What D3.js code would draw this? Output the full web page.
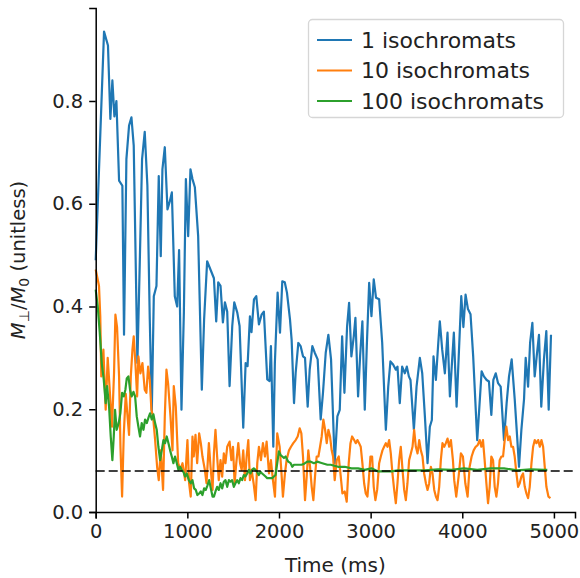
<!DOCTYPE html>
<html>
<head>
<meta charset="utf-8">
<script src="https://cdn.jsdelivr.net/npm/d3@7"></script>
<style>
  body { margin: 0; background: #fff; }
  text { font-family: "DejaVu Sans", sans-serif; }
</style>
</head>
<body>
<div id="wrapper"></div>
<script>
// DATA: [time (ms), M_perp / M0]
const iso1 = [[0,0.49],[91,0.935],[134,0.908],[160,0.765],[182,0.84],[204,0.77],[226,0.80],[255,0.645],[291,0.635],[309,0.345],[335,0.687],[364,0.752],[390,0.768],[415,0.713],[455,0.29],[481,0.486],[506,0.687],[535,0.74],[564,0.635],[590,0.375],[612,0.193],[634,0.42],[663,0.44],[688,0.654],[710,0.498],[728,0.667],[754,0.71],[783,0.589],[809,0.605],[831,0.622],[863,0.42],[889,0.40],[910,0.51],[936,0.199],[962,0.388],[984,0.648],[1009,0.537],[1034,0.667],[1056,0.648],[1082,0.632],[1118,0.537],[1158,0.238],[1183,0.375],[1216,0.488],[1252,0.472],[1290,0.455],[1315,0.371],[1337,0.447],[1362,0.44],[1388,0.369],[1410,0.408],[1435,0.39],[1461,0.245],[1490,0.362],[1512,0.408],[1545,0.388],[1570,0.362],[1610,0.164],[1636,0.29],[1657,0.284],[1683,0.381],[1700,0.35],[1727,0.414],[1752,0.42],[1781,0.365],[1810,0.384],[1835,0.39],[1872,0.258],[1897,0.255],[1912,0.323],[1938,0.127],[1955,0.29],[1985,0.427],[2011,0.349],[2036,0.449],[2063,0.447],[2087,0.427],[2120,0.375],[2138,0.335],[2164,0.212],[2182,0.271],[2211,0.329],[2236,0.323],[2262,0.303],[2284,0.30],[2313,0.205],[2335,0.277],[2364,0.323],[2390,0.31],[2422,0.297],[2455,0.18],[2480,0.232],[2510,0.31],[2539,0.345],[2568,0.297],[2608,0.095],[2637,0.186],[2663,0.199],[2689,0.342],[2714,0.232],[2743,0.361],[2765,0.407],[2790,0.303],[2816,0.342],[2834,0.378],[2863,0.225],[2885,0.303],[2910,0.371],[2936,0.199],[2958,0.322],[2984,0.446],[3009,0.381],[3034,0.453],[3059,0.417],[3093,0.414],[3126,0.33],[3166,0.16],[3192,0.244],[3216,0.293],[3245,0.287],[3275,0.277],[3293,0.283],[3318,0.212],[3344,0.283],[3373,0.27],[3395,0.283],[3417,0.264],[3435,0.257],[3472,0.16],[3501,0.244],[3537,0.30],[3563,0.27],[3592,0.186],[3621,0.095],[3646,0.166],[3668,0.179],[3686,0.303],[3712,0.257],[3738,0.329],[3755,0.371],[3781,0.316],[3810,0.27],[3839,0.349],[3865,0.225],[3908,0.349],[3938,0.205],[3989,0.42],[4012,0.36],[4036,0.423],[4062,0.395],[4090,0.385],[4119,0.303],[4163,0.14],[4192,0.22],[4211,0.274],[4236,0.264],[4266,0.257],[4291,0.254],[4317,0.189],[4339,0.257],[4365,0.27],[4390,0.251],[4419,0.244],[4455,0.14],[4484,0.212],[4510,0.264],[4539,0.297],[4572,0.22],[4601,0.14],[4619,0.088],[4645,0.16],[4674,0.22],[4692,0.30],[4718,0.244],[4740,0.329],[4765,0.368],[4790,0.264],[4812,0.303],[4837,0.345],[4862,0.205],[4891,0.297],[4917,0.352],[4943,0.199],[4968,0.345]]

const iso10 = [[0,0.472],[36,0.44],[50,0.38],[61,0.264],[84,0.316],[109,0.199],[131,0.30],[153,0.238],[178,0.166],[200,0.27],[215,0.384],[233,0.36],[255,0.264],[270,0.128],[288,0.03],[306,0.15],[328,0.23],[350,0.18],[364,0.15],[383,0.264],[401,0.316],[415,0.342],[433,0.29],[452,0.225],[466,0.303],[488,0.27],[510,0.29],[535,0.238],[553,0.232],[572,0.283],[590,0.257],[608,0.199],[626,0.186],[648,0.141],[670,0.088],[688,0.062],[710,0.12],[735,0.043],[754,0.186],[772,0.277],[790,0.25],[816,0.186],[838,0.12],[852,0.245],[874,0.205],[900,0.095],[925,0.082],[947,0.095],[976,0.062],[1001,0.14],[1019,0.056],[1037,0.03],[1056,0.147],[1070,0.108],[1089,0.15],[1107,0.095],[1129,0.153],[1147,0.134],[1165,0.108],[1191,0.082],[1209,0.056],[1235,0.134],[1253,0.088],[1275,0.043],[1290,0.114],[1307,0.16],[1325,0.108],[1343,0.062],[1362,0.101],[1380,0.069],[1398,0.114],[1416,0.095],[1435,0.127],[1461,0.137],[1480,0.101],[1498,0.127],[1516,0.056],[1534,0.095],[1556,0.134],[1575,0.095],[1593,0.082],[1610,0.12],[1629,0.062],[1647,0.108],[1665,0.14],[1683,0.062],[1701,0.082],[1723,0.056],[1745,0.023],[1763,0.095],[1781,0.127],[1803,0.101],[1825,0.134],[1847,0.108],[1865,0.137],[1891,0.075],[1912,0.101],[1934,0.062],[1956,0.03],[1981,0.153],[2007,0.127],[2025,0.082],[2043,0.03],[2065,0.075],[2083,0.101],[2109,0.12],[2131,0.127],[2156,0.134],[2182,0.14],[2204,0.147],[2226,0.163],[2244,0.153],[2262,0.108],[2284,0.023],[2302,0.069],[2320,0.12],[2339,0.088],[2357,0.049],[2375,0.023],[2393,0.069],[2411,0.108],[2430,0.108],[2448,0.127],[2466,0.147],[2484,0.18],[2503,0.16],[2521,0.134],[2539,0.16],[2557,0.147],[2575,0.12],[2590,0.108],[2608,0.062],[2630,0.101],[2652,0.108],[2674,0.069],[2692,0.036],[2717,0.04],[2739,0.02],[2761,0.095],[2780,0.134],[2798,0.147],[2820,0.14],[2838,0.134],[2856,0.14],[2874,0.134],[2892,0.127],[2910,0.095],[2929,0.056],[2947,0.036],[2965,0.03],[2980,0.062],[2998,0.108],[3016,0.108],[3034,0.049],[3052,0.023],[3071,0.043],[3093,0.095],[3111,0.108],[3129,0.12],[3147,0.127],[3166,0.134],[3184,0.127],[3202,0.14],[3220,0.114],[3238,0.075],[3257,0.043],[3275,0.017],[3293,0.056],[3311,0.101],[3329,0.127],[3348,0.082],[3366,0.043],[3384,0.023],[3402,0.056],[3420,0.101],[3439,0.114],[3457,0.127],[3475,0.16],[3493,0.127],[3512,0.114],[3530,0.14],[3548,0.12],[3566,0.108],[3584,0.075],[3603,0.056],[3621,0.043],[3639,0.056],[3657,0.088],[3675,0.075],[3694,0.043],[3712,0.03],[3730,0.023],[3748,0.049],[3766,0.101],[3784,0.134],[3803,0.127],[3821,0.134],[3839,0.143],[3857,0.127],[3876,0.14],[3898,0.101],[3912,0.062],[3934,0.03],[3960,0.069],[3985,0.114],[4007,0.108],[4033,0.056],[4058,0.03],[4080,0.088],[4102,0.108],[4124,0.12],[4146,0.127],[4168,0.13],[4190,0.14],[4208,0.127],[4226,0.14],[4244,0.101],[4263,0.056],[4281,0.017],[4299,0.049],[4317,0.108],[4336,0.101],[4354,0.049],[4372,0.03],[4390,0.056],[4408,0.101],[4427,0.108],[4445,0.108],[4463,0.14],[4481,0.166],[4500,0.14],[4518,0.147],[4536,0.127],[4554,0.127],[4572,0.108],[4591,0.075],[4609,0.049],[4627,0.056],[4645,0.069],[4663,0.075],[4682,0.049],[4700,0.036],[4718,0.027],[4736,0.049],[4755,0.095],[4773,0.127],[4791,0.14],[4809,0.134],[4828,0.14],[4846,0.127],[4864,0.14],[4882,0.127],[4900,0.088],[4918,0.049],[4940,0.03],[4962,0.027]]

const iso100 = [[0,0.433],[22,0.40],[44,0.35],[66,0.29],[88,0.257],[109,0.212],[124,0.245],[146,0.205],[164,0.147],[182,0.101],[197,0.147],[211,0.199],[229,0.16],[251,0.173],[269,0.192],[288,0.232],[306,0.225],[324,0.238],[339,0.26],[357,0.264],[375,0.238],[393,0.225],[412,0.234],[430,0.225],[448,0.186],[466,0.166],[484,0.147],[502,0.173],[521,0.16],[539,0.18],[557,0.173],[575,0.183],[593,0.192],[612,0.18],[630,0.19],[648,0.173],[666,0.16],[684,0.127],[703,0.101],[721,0.12],[739,0.14],[757,0.134],[775,0.147],[794,0.134],[812,0.12],[830,0.108],[848,0.095],[866,0.108],[885,0.095],[903,0.082],[921,0.088],[939,0.082],[957,0.078],[976,0.069],[994,0.075],[1016,0.062],[1037,0.056],[1056,0.062],[1074,0.046],[1092,0.043],[1110,0.033],[1129,0.036],[1147,0.04],[1165,0.033],[1183,0.046],[1201,0.043],[1220,0.052],[1238,0.062],[1256,0.046],[1275,0.03],[1290,0.03],[1307,0.04],[1325,0.049],[1343,0.043],[1362,0.056],[1380,0.046],[1398,0.059],[1416,0.062],[1435,0.049],[1453,0.062],[1471,0.059],[1489,0.062],[1507,0.049],[1525,0.056],[1544,0.062],[1562,0.056],[1580,0.066],[1598,0.062],[1616,0.072],[1634,0.069],[1653,0.075],[1671,0.082],[1689,0.075],[1707,0.082],[1725,0.085],[1744,0.082],[1762,0.078],[1780,0.072],[1798,0.078],[1816,0.075],[1835,0.072],[1853,0.069],[1871,0.066],[1889,0.066],[1907,0.066],[1926,0.066],[1944,0.069],[1962,0.072],[1981,0.095],[1999,0.118],[2017,0.111],[2036,0.108],[2054,0.105],[2072,0.108],[2101,0.098],[2127,0.095],[2145,0.088],[2163,0.092],[2189,0.092],[2218,0.092],[2247,0.092],[2276,0.094],[2309,0.098],[2346,0.098],[2382,0.095],[2418,0.098],[2455,0.096],[2491,0.094],[2528,0.092],[2564,0.092],[2644,0.088],[2717,0.088],[2790,0.085],[2863,0.085],[2936,0.082],[3009,0.085],[3081,0.079],[3154,0.079],[3227,0.079],[3300,0.081],[3446,0.081],[3592,0.081],[3737,0.083],[3883,0.082],[4018,0.085],[4163,0.082],[4309,0.085],[4455,0.085],[4601,0.081],[4746,0.083],[4892,0.082],[4928,0.082]]

const seriesNames = ['1 isochromats', '10 isochromats', '100 isochromats']
const seriesColors = ['#1f77b4', '#ff7f0e', '#2ca02c']
const xTicks = [0, 1000, 2000, 3000, 4000, 5000]
const yTicks = [0, 0.2, 0.4, 0.6, 0.8]
const refLevel = 0.08

function drawChart() {
  const dimensions = {
    width: 580,
    height: 578,
    margin: { top: 8, right: 5, bottom: 66, left: 95.7 }
  }
  dimensions.boundedWidth = dimensions.width - dimensions.margin.left - dimensions.margin.right
  dimensions.boundedHeight = dimensions.height - dimensions.margin.top - dimensions.margin.bottom

  const wrapper = d3.select('#wrapper')
    .append('svg')
    .attr('width', dimensions.width)
    .attr('height', dimensions.height)

  const bounds = wrapper.append('g')
    .attr('transform', `translate(${dimensions.margin.left},${dimensions.margin.top})`)

  // SCALES
  const xScale = d3.scaleLinear()
    .domain([0, 5230])
    .range([0, dimensions.boundedWidth])

  const yScale = d3.scaleLinear()
    .domain([0, 0.981])
    .range([dimensions.boundedHeight, 0])

  // lines
  const lineGenerator = d3.line()
    .x(d => xScale(d[0]))
    .y(d => yScale(d[1]))

  const allSeries = [iso1, iso10, iso100]
  allSeries.forEach((s, i) => {
    bounds.append('path')
      .attr('d', lineGenerator(s))
      .attr('fill', 'none')
      .attr('stroke', seriesColors[i])
      .attr('stroke-width', 2.2)
      .attr('stroke-linejoin', 'round')
  })

  // dashed reference line
  bounds.append('line')
    .attr('x1', xScale(0))
    .attr('x2', xScale(5230))
    .attr('y1', yScale(refLevel))
    .attr('y2', yScale(refLevel))
    .attr('stroke', 'black')
    .attr('stroke-opacity', 0.75)
    .attr('stroke-width', 2)
    .attr('stroke-dasharray', '9,4')

  // AXES
  const xAxis = bounds.append('g')
    .attr('transform', `translate(0,${dimensions.boundedHeight})`)
    .call(d3.axisBottom(xScale).tickValues(xTicks).tickFormat(d3.format('d')).tickSizeOuter(0).tickSize(6.5).tickPadding(6))

  const yAxis = bounds.append('g')
    .call(d3.axisLeft(yScale).tickValues(yTicks).tickFormat(d3.format('.1f')).tickSizeOuter(0).tickSize(6.5).tickPadding(6))

  ;[xAxis, yAxis].forEach(ax => {
    ax.select('.domain').attr('stroke', 'black').attr('stroke-width', 1.5)
    ax.selectAll('.tick line').attr('stroke', 'black').attr('stroke-width', 1.5)
    ax.selectAll('.tick text').attr('fill', '#222').style('font-size', '19.5px')
  })

  // axis labels
  wrapper.append('text')
    .attr('x', dimensions.margin.left + dimensions.boundedWidth / 2)
    .attr('y', 572)
    .attr('text-anchor', 'middle')
    .attr('fill', '#222')
    .style('font-size', '20px')
    .text('Time (ms)')

  const yLabel = wrapper.append('text')
    .attr('transform', `translate(25,${dimensions.margin.top + dimensions.boundedHeight / 2}) rotate(-90)`)
    .attr('text-anchor', 'middle')
    .attr('fill', '#222')
    .style('font-size', '19.5px')
  yLabel.append('tspan').style('font-style', 'italic').text('M')
  yLabel.append('tspan').attr('dy', 4).style('font-size', '14px').text('⊥')
  yLabel.append('tspan').attr('dy', -4).text('/')
  yLabel.append('tspan').style('font-style', 'italic').text('M')
  yLabel.append('tspan').attr('dy', 4).style('font-size', '14px').text('0')
  yLabel.append('tspan').attr('dy', -4).text(' (unitless)')

  // LEGEND
  const legend = wrapper.append('g')
  legend.append('rect')
    .attr('x', 308.5)
    .attr('y', 19.5)
    .attr('width', 255)
    .attr('height', 98)
    .attr('rx', 4)
    .attr('fill', 'white')
    .attr('fill-opacity', 0.8)
    .attr('stroke', '#d6d6d6')
    .attr('stroke-width', 1.3)

  seriesNames.forEach((name, i) => {
    const yy = 40 + i * 30.5
    legend.append('line')
      .attr('x1', 317)
      .attr('x2', 352)
      .attr('y1', yy)
      .attr('y2', yy)
      .attr('stroke', seriesColors[i])
      .attr('stroke-width', 2.2)
    legend.append('text')
      .attr('x', 361)
      .attr('y', yy)
      .attr('dy', '0.35em')
      .attr('fill', '#222')
      .style('font-size', '22px')
      .text(name)
  })
}

drawChart()
</script>
</body>
</html>
